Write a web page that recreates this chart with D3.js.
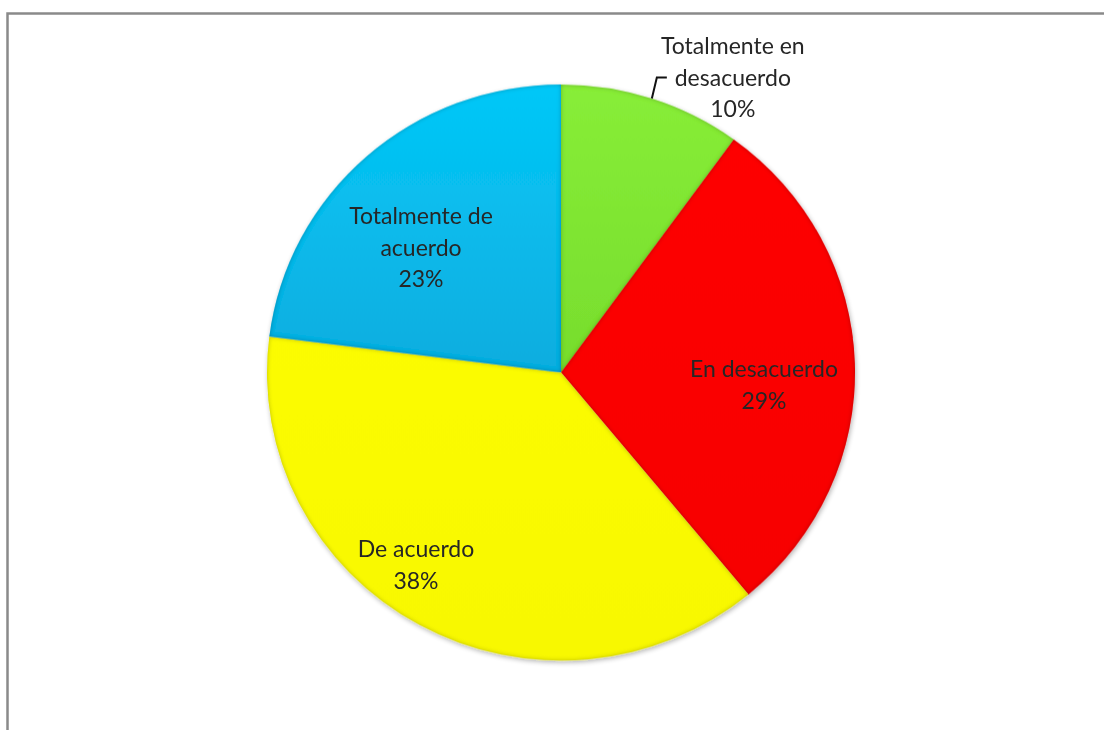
<!DOCTYPE html>
<html>
<head>
<meta charset="utf-8">
<script src="https://cdn.jsdelivr.net/npm/d3@7"></script>
<style>
  html, body { margin: 0; padding: 0; background: #fff; }
  svg { display: block; }
  text { font-family: Lato, "Open Sans", sans-serif; fill: #262626; }
</style>
</head>
<body>
<svg id="chart" width="1104" height="730"></svg>
<script>
// Survey answers, in clockwise order from 12 o'clock
const categories = ["Totalmente en desacuerdo", "En desacuerdo", "De acuerdo", "Totalmente de acuerdo"];
const shares = [10, 29, 38, 23];
const labelLines = [
  ["Totalmente en", "desacuerdo", "10%"],
  ["En desacuerdo", "29%"],
  ["De acuerdo", "38%"],
  ["Totalmente de", "acuerdo", "23%"]
];

const sliceColors = {
  "Totalmente en desacuerdo": ["#88ee38", "#66cc22"],
  "En desacuerdo": ["#ff0000", "#f60000"],
  "De acuerdo": ["#ffff00", "#f8f800"],
  "Totalmente de acuerdo": ["#04c8f8", "#1592c6"]
};

const svg = d3.select("#chart");
const defs = svg.append("defs");

// chart frame (top and left edges)
svg.append("path")
  .attr("d", "M7.5,730 V13.5 H1104")
  .attr("fill", "none")
  .attr("stroke", "#8a8a8a")
  .attr("stroke-width", 2.5);

const cx = 561, cy = 372.5, rx = 294, ry = 288;
const R = rx;

// per-slice vertical gradients
categories.forEach((c, i) => {
  const g = defs.append("linearGradient")
    .attr("id", "grad" + i)
    .attr("gradientUnits", "userSpaceOnUse")
    .attr("x1", 0).attr("y1", -R).attr("x2", 0).attr("y2", R);
  g.append("stop").attr("offset", "0%").attr("stop-color", sliceColors[c][0]);
  g.append("stop").attr("offset", "100%").attr("stop-color", sliceColors[c][1]);
});

// bevel: narrow inner shadow along every slice edge
const f = defs.append("filter").attr("id", "bevel")
  .attr("x", "-10%").attr("y", "-10%").attr("width", "120%").attr("height", "120%");
f.append("feComponentTransfer").attr("in", "SourceAlpha").attr("result", "inv")
  .append("feFuncA").attr("type", "table").attr("tableValues", "1 0");
f.append("feGaussianBlur").attr("in", "inv").attr("stdDeviation", 2).attr("result", "blur");
f.append("feFlood").attr("flood-color", "#000").attr("flood-opacity", 0.5).attr("result", "col");
f.append("feComposite").attr("in", "col").attr("in2", "blur").attr("operator", "in").attr("result", "sh");
f.append("feComposite").attr("in", "sh").attr("in2", "SourceAlpha").attr("operator", "in").attr("result", "inner");
const m = f.append("feMerge");
m.append("feMergeNode").attr("in", "SourceGraphic");
m.append("feMergeNode").attr("in", "inner");

// outer drop shadow under the pie
const ds = defs.append("filter").attr("id", "drop")
  .attr("x", "-10%").attr("y", "-10%").attr("width", "120%").attr("height", "120%");
ds.append("feGaussianBlur").attr("in", "SourceAlpha").attr("stdDeviation", 2.5);
ds.append("feOffset").attr("dx", 1).attr("dy", 2).attr("result", "o");
ds.append("feComponentTransfer").attr("in", "o").attr("result", "o2")
  .append("feFuncA").attr("type", "linear").attr("slope", 0.3);
const m2 = ds.append("feMerge");
m2.append("feMergeNode").attr("in", "o2");
m2.append("feMergeNode").attr("in", "SourceGraphic");

const data = categories.map((c, i) => ({ category: c, value: shares[i], lines: labelLines[i], index: i }));

const pie = d3.pie().value(d => d.value).sort(null);
const arcs = pie(data);
const arc = d3.arc().innerRadius(0).outerRadius(R);

const pieG = svg.append("g")
  .attr("transform", `translate(${cx},${cy}) scale(1,${ry / rx})`)
  .attr("filter", "url(#drop)");

pieG.selectAll("path.slice")
  .data(arcs)
  .join("path")
  .attr("class", "slice")
  .attr("d", arc)
  .attr("fill", d => `url(#grad${d.index})`)
  .attr("filter", "url(#bevel)");

// label anchors (centre of the text block), relative to the pie centre
const labelAnchor = {
  "En desacuerdo": [203, 12],
  "De acuerdo": [-145, 192],
  "Totalmente de acuerdo": [-140, -125]
};
const lineH = 31.5;

const labelG = svg.append("g").attr("transform", `translate(${cx},${cy})`);

arcs.forEach(a => {
  const d = a.data;
  let x, y0;
  if (labelAnchor[d.category]) {
    const [ax, ay] = labelAnchor[d.category];
    x = ax;
    y0 = ay - (d.lines.length - 1) * lineH / 2;
  } else {
    // outside label with a leader line from the slice rim
    const mid = (a.startAngle + a.endAngle) / 2;
    const px = Math.sin(mid) * rx, py = -Math.cos(mid) * ry;
    const ex = px + 5, ey = py - 21;
    labelG.append("path")
      .attr("d", `M${px},${py} L${ex},${ey} H${ex + 10}`)
      .attr("fill", "none")
      .attr("stroke", "#111")
      .attr("stroke-width", 2);
    x = ex + 76;
    y0 = ey - lineH;
  }
  const t = labelG.append("text")
    .attr("text-anchor", "middle")
    .attr("font-size", 23);
  d.lines.forEach((ln, k) => {
    t.append("tspan")
      .attr("x", x)
      .attr("y", y0 + k * lineH)
      .attr("dy", "0.36em")
      .text(ln);
  });
});
</script>
</body>
</html>
